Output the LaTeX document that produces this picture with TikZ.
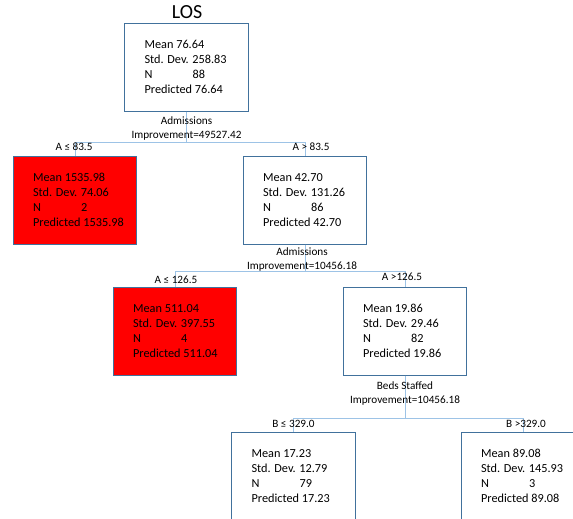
\documentclass[tikz,border=0pt]{standalone}
\usepackage{fontspec}
\setmainfont{Carlito}
\usetikzlibrary{positioning}
\definecolor{Frame}{HTML}{41719C}
\definecolor{Wire}{HTML}{9DC3E6}
\definecolor{Hot}{HTML}{FF0000}
\newcommand{\statlines}[4]{Mean #1\\Std. Dev. #2\\\makebox[36pt][l]{N}#3\\Predicted #4}

\begin{document}
\begin{tikzpicture}[x=.75pt,y=-.75pt,
box/.style={draw=Frame,line width=.75pt,minimum width=92.5pt,minimum height=66pt,inner sep=0pt},
hot/.style={box,fill=Hot},
stats/.style={anchor=west,align=left,font=\fontsize{9.2}{11.25}\selectfont,inner sep=0pt},
split/.style={align=center,font=\fontsize{8.4}{10.5}\selectfont,inner sep=0pt},
cut/.style={font=\fontsize{8.4}{10}\selectfont,inner sep=0pt},
wire/.style={draw=Wire,line width=.75pt}]
\useasboundingbox(0,0)rectangle(573,518);
\clip(0,0)rectangle(573,518);
% boxes
\node[font=\fontsize{15}{18}\selectfont](title)at(187,12){LOS};
\node[box](root)at(186.5,67){};
\node[hot](lowA)at(75,200){};
\node[box](highA)at(305,200){};
\node[hot](lowA2)at(175,331){};
\node[box](highA2)at(405,331){};
\node[box](lowB)at(293.5,476){};
\node[box](highB)at(523,476){};
% connectors
\draw[wire](root.south)--++(0,31)-|(lowA.north);
\draw[wire](root.south)--++(0,31)-|(highA.north);
\draw[wire](highA.south)--++(0,27)-|(lowA2.north);
\draw[wire](highA.south)--++(0,27)-|(highA2.north);
\draw[wire](highA2.south)--++(0,43)-|(lowB.north);
\draw[wire](highA2.south)--++(0,43)-|(highB.north);
% statistics
\node[stats](root-t)at([xshift=15pt]root.west){\statlines{76.64}{258.83}{88}{76.64}};
\node[stats](lowA-t)at([xshift=15pt]lowA.west){\statlines{1535.98}{74.06}{2}{1535.98}};
\node[stats](highA-t)at([xshift=15pt]highA.west){\statlines{42.70}{131.26}{86}{42.70}};
\node[stats](lowA2-t)at([xshift=15pt]lowA2.west){\statlines{511.04}{397.55}{4}{511.04}};
\node[stats](highA2-t)at([xshift=15pt]highA2.west){\statlines{19.86}{29.46}{82}{19.86}};
\node[stats](lowB-t)at([xshift=15pt]lowB.west){\statlines{17.23}{12.79}{79}{17.23}};
\node[stats](highB-t)at([xshift=15pt]highB.west){\statlines{89.08}{145.93}{3}{89.08}};
% splits
\node[split](s1)at(186.5,129){Admissions\\Improvement=49527.42};
\node[split](s2)at(302,259.5){Admissions\\Improvement=10456.18};
\node[split](s3)at(405,393.5){Beds Staffed\\Improvement=10456.18};
\node[cut](c1)at(74,147){A ≤ 83.5};
\node[cut](c2)at(311,147){A > 83.5};
\node[cut](c3)at(176,280){A ≤ 126.5};
\node[cut](c4)at(402,277){A >126.5};
\node[cut](c5)at(293.5,424){B ≤ 329.0};
\node[cut](c6)at(526,424){B >329.0};
\end{tikzpicture}
\end{document}
